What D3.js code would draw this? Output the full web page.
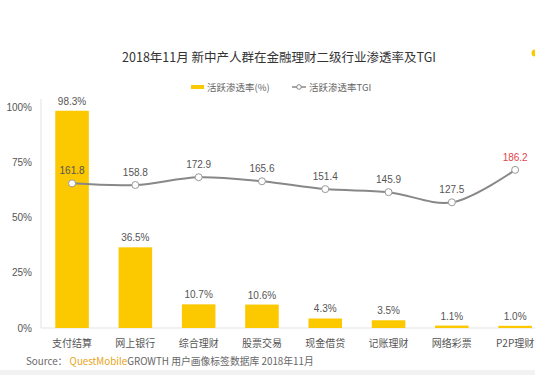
<!DOCTYPE html>
<html>
<head>
<meta charset="utf-8">
<script src="https://cdn.jsdelivr.net/npm/d3@7"></script>
<style>
  body { margin: 0; background: #fff; }
  svg { display: block; font-family: "Noto Sans CJK SC", "Microsoft YaHei", sans-serif; }
</style>
</head>
<body>
<div id="chart"></div>
<script>
const categories = ["支付结算", "网上银行", "综合理财", "股票交易", "现金借贷", "记账理财", "网络彩票", "P2P理财"];
const penetration = [98.3, 36.5, 10.7, 10.6, 4.3, 3.5, 1.1, 1.0];
const tgi = [161.8, 158.8, 172.9, 165.6, 151.4, 145.9, 127.5, 186.2];
const pctTicks = [0, 25, 50, 75, 100];

const width = 535, height = 375;
const svg = d3.select("#chart").append("svg")
    .attr("width", width)
    .attr("height", height);

const plotLeft = 41, plotBottom = 328, plotTop = 107;
const step = 63.3;

const x = d3.scaleBand()
    .domain(categories)
    .range([40.4, 40.4 + step * categories.length])
    .paddingInner(0.47)
    .paddingOuter(0.235);

const y = d3.scaleLinear().domain([0, 100]).range([plotBottom, plotTop]);
const y2 = d3.scaleLinear().domain([-100, 300]).range([plotBottom, plotTop]);

// title
svg.append("text")
    .attr("x", 279)
    .attr("y", 62)
    .attr("text-anchor", "middle")
    .attr("font-size", "12.5px")
    .attr("fill", "#333")
    .text("2018年11月 新中产人群在金融理财二级行业渗透率及TGI");

// small yellow dot at top right
svg.append("circle")
    .attr("cx", 535)
    .attr("cy", 53)
    .attr("r", 3.5)
    .attr("fill", "#fcc800");

// legend
const lg = svg.append("g").attr("font-size", "9.5px").attr("fill", "#666");
lg.append("rect").attr("x", 191).attr("y", 85).attr("width", 13).attr("height", 4).attr("fill", "#fcc800");
lg.append("text").attr("x", 207).attr("y", 90.5).text("活跃渗透率(%)");
lg.append("line").attr("x1", 292).attr("x2", 306).attr("y1", 87).attr("y2", 87)
    .attr("stroke", "#888").attr("stroke-width", 1.5);
lg.append("circle").attr("cx", 299).attr("cy", 87).attr("r", 2.3)
    .attr("fill", "#fff").attr("stroke", "#888");
lg.append("text").attr("x", 309).attr("y", 90.5).text("活跃渗透率TGI");

// left axis
const yAxis = svg.append("g")
    .attr("transform", `translate(${plotLeft},0)`)
    .call(d3.axisLeft(y).tickValues(pctTicks).tickSize(0).tickPadding(9).tickFormat(d => d + "%"));
yAxis.select(".domain").attr("stroke", "#e3e3e3").attr("d", `M0,${plotBottom}V${plotTop - 8}`);
yAxis.selectAll("text").attr("font-size", "10px").attr("fill", "#555")
    .attr("font-family", "Arial, 'Liberation Sans', sans-serif");

// baseline
svg.append("line")
    .attr("x1", plotLeft).attr("x2", width)
    .attr("y1", plotBottom).attr("y2", plotBottom)
    .attr("stroke", "#e3e3e3");

// bars
svg.selectAll(".bar")
    .data(penetration)
    .enter().append("rect")
    .attr("class", "bar")
    .attr("x", (d, i) => x(categories[i]))
    .attr("y", d => y(d))
    .attr("width", x.bandwidth())
    .attr("height", d => plotBottom - y(d))
    .attr("fill", "#fcc800");

svg.selectAll(".barLabel")
    .data(penetration)
    .enter().append("text")
    .attr("class", "barLabel")
    .attr("x", (d, i) => x(categories[i]) + x.bandwidth() / 2)
    .attr("y", d => y(d) - 6)
    .attr("text-anchor", "middle")
    .attr("font-size", "10px")
    .attr("font-family", "Arial, 'Liberation Sans', sans-serif")
    .attr("fill", "#555")
    .text(d => d.toFixed(1) + "%");

// category labels
svg.selectAll(".cat")
    .data(categories)
    .enter().append("text")
    .attr("class", "cat")
    .attr("x", d => x(d) + x.bandwidth() / 2)
    .attr("y", 347)
    .attr("text-anchor", "middle")
    .attr("font-size", "10px")
    .attr("fill", "#555")
    .text(d => d);

// TGI line
const cx = (d, i) => x(categories[i]) + x.bandwidth() / 2;
const line = d3.line()
    .x(cx)
    .y(d => y2(d))
    .curve(d3.curveCatmullRom.alpha(0.5));

svg.append("path")
    .datum(tgi)
    .attr("fill", "none")
    .attr("stroke", "#888")
    .attr("stroke-width", 2)
    .attr("d", line);

svg.selectAll(".pt")
    .data(tgi)
    .enter().append("circle")
    .attr("class", "pt")
    .attr("cx", cx)
    .attr("cy", d => y2(d))
    .attr("r", 3.5)
    .attr("fill", "#fff")
    .attr("stroke", "#999")
    .attr("stroke-width", 1);

svg.selectAll(".tgiLabel")
    .data(tgi)
    .enter().append("text")
    .attr("class", "tgiLabel")
    .attr("x", cx)
    .attr("y", d => y2(d) - 9)
    .attr("text-anchor", "middle")
    .attr("font-size", "10px")
    .attr("font-family", "Arial, 'Liberation Sans', sans-serif")
    .attr("fill", (d, i) => i === tgi.length - 1 ? "#e0474c" : "#555")
    .text(d => d.toFixed(1));

// source
const src = svg.append("text")
    .attr("x", 26)
    .attr("y", 365)
    .attr("font-size", "9.8px")
    .attr("fill", "#666");
src.append("tspan").text("Source： ");
src.append("tspan").attr("fill", "#e8a317").text("QuestMobile");
src.append("tspan").text("GROWTH 用户画像标签数据库 2018年11月");

// bottom band
svg.append("rect")
    .attr("x", 0).attr("y", 370)
    .attr("width", width).attr("height", 5)
    .attr("fill", "#f2f2f2");
</script>
</body>
</html>
